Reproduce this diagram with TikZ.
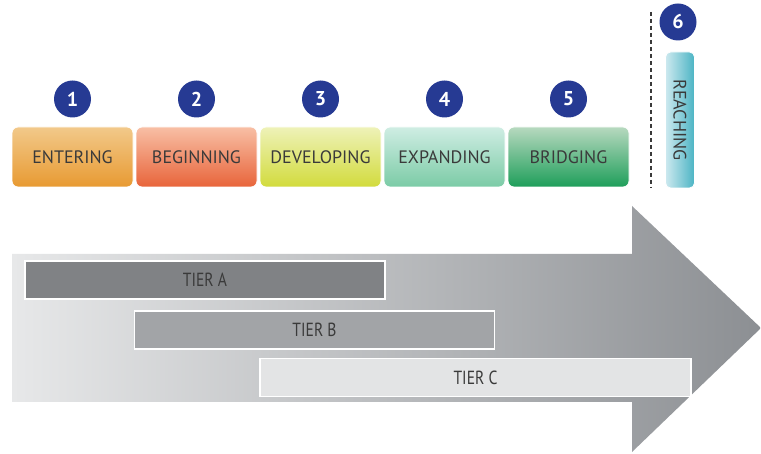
\documentclass[tikz,border=0pt]{standalone}
\usepackage{fontspec}
\setmainfont{PT Sans}
\usetikzlibrary{calc}

\definecolor{numblue}{HTML}{263A93}
\definecolor{labeltext}{HTML}{3A3A3A}
\definecolor{arrowleft}{HTML}{E7E8E9}
\definecolor{arrowright}{HTML}{8C8F93}
\definecolor{entertop}{HTML}{F2C98A}
\definecolor{enterbot}{HTML}{E89A32}
\definecolor{begintop}{HTML}{F8BFA5}
\definecolor{beginbot}{HTML}{E8643A}
\definecolor{developtop}{HTML}{EEF2B8}
\definecolor{developbot}{HTML}{D2DB3C}
\definecolor{expandtop}{HTML}{CFEDE3}
\definecolor{expandbot}{HTML}{7BCBA6}
\definecolor{bridgetop}{HTML}{B7D9BF}
\definecolor{bridgebot}{HTML}{1E9E5A}
\definecolor{reachtop}{HTML}{CDE9EF}
\definecolor{reachbot}{HTML}{4BB4C4}
\definecolor{tiera}{HTML}{808285}
\definecolor{tierb}{HTML}{A2A4A7}
\definecolor{tierc}{HTML}{E3E4E5}

\begin{document}
\begin{tikzpicture}[x=1pt,y=-1pt,
    stagenode/.style={rectangle, rounded corners=6pt, draw=white, line width=0.8pt,
      minimum width=121pt, minimum height=60pt, text=labeltext, font=\fontsize{18}{20}\selectfont},
    numbernode/.style={circle, fill=numblue, text=white, minimum size=37pt, inner sep=0pt,
      font=\fontsize{20}{22}\selectfont\bfseries},
    tiernode/.style={rectangle, draw=white, line width=1.2pt, minimum width=360pt,
      minimum height=38pt, text=labeltext,
      font=\fontsize{19}{21}\selectfont\addfontfeature{FakeStretch=0.82}}
    ]
  \useasboundingbox (0,0) rectangle (761,454);
  % arrow
  \shade[left color=arrowleft, right color=arrowright]
    (12,254) -- (632,254) -- (632,206) -- (761,328) -- (632,452) -- (632,402) -- (12,402) -- cycle;
  \begin{scope}
    % nodes
    \node[stagenode, top color=entertop, bottom color=enterbot] (Entering) at (72.5,157) {ENTERING};
    \node[stagenode, top color=begintop, bottom color=beginbot] (Beginning) at ($(Entering)+(124,0)$) {BEGINNING};
    \node[stagenode, top color=developtop, bottom color=developbot] (Developing) at ($(Beginning)+(124,0)$) {DEVELOPING};
    \node[stagenode, top color=expandtop, bottom color=expandbot] (Expanding) at ($(Developing)+(124,0)$) {EXPANDING};
    \node[stagenode, top color=bridgetop, bottom color=bridgebot] (Bridging) at ($(Expanding)+(124,0)$) {BRIDGING};
    \node[stagenode, rotate=-90, minimum width=136pt, minimum height=29pt, rounded corners=5pt,
      left color=reachtop, right color=reachbot] (Reaching) at (680,120) {REACHING};
    \node[numbernode] (One) at ($(Entering)+(0,-58)$) {1};
    \node[numbernode] (Two) at ($(Beginning)+(0,-58)$) {2};
    \node[numbernode] (Three) at ($(Developing)+(0,-58)$) {3};
    \node[numbernode] (Four) at ($(Expanding)+(0,-58)$) {4};
    \node[numbernode] (Five) at ($(Bridging)+(0,-58)$) {5};
    \node[numbernode] (Six) at (678,22) {6};
    \node[tiernode, fill=tiera] (Tier A) at (205,280) {TIER A};
    \node[tiernode, fill=tierb] (Tier B) at (314.5,330) {TIER B};
    \node[tiernode, fill=tierc, minimum width=431pt] (Tier C) at (475.5,377.5) {TIER C};
    \coordinate (DashTop) at (651,12);
    \coordinate (DashBottom) at (651,188);
    % arrows
    \draw[dash pattern=on 4pt off 3pt, line width=1.2pt, labeltext] (DashTop) -- (DashBottom);
  \end{scope}
\end{tikzpicture}
\end{document}
